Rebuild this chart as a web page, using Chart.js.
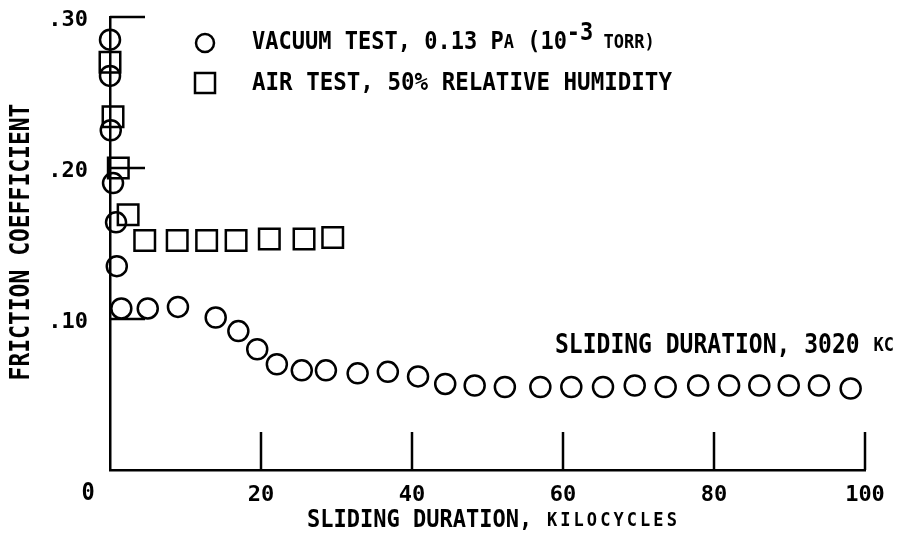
<!DOCTYPE html>
<html lang="en">
<head>
    <meta charset="UTF-8">
    <title>Friction Coefficient vs Sliding Duration</title>
    <script src="https://cdn.jsdelivr.net/npm/chart.js"></script>
    <style>
        body { margin: 0; background: #fff; }
    </style>
</head>
<body>

    <canvas id="frictionChart" width="897" height="534"></canvas>

    <script>
        // Vacuum test, 0.13 Pa (circles)
        const vacuumX = [0, 0, 0.1, 0.4, 0.8, 0.9, 1.5, 5.0, 9.0, 14.0, 17.0, 19.5, 22.1, 25.4, 28.6, 32.8, 36.8, 40.8, 44.4, 48.3, 52.3, 57.0, 61.1, 65.3, 69.5, 73.6, 77.9, 82.0, 86.0, 89.9, 93.9, 98.1];
        const vacuumY = [0.285, 0.261, 0.225, 0.190, 0.164, 0.135, 0.107, 0.107, 0.108, 0.101, 0.092, 0.080, 0.070, 0.066, 0.066, 0.064, 0.065, 0.062, 0.057, 0.056, 0.055, 0.055, 0.055, 0.055, 0.056, 0.055, 0.056, 0.056, 0.056, 0.056, 0.056, 0.054];

        // Air test, 50% relative humidity (squares)
        const airX = [0, 0.4, 1.1, 2.4, 4.6, 8.9, 12.8, 16.7, 21.1, 25.7, 29.5];
        const airY = [0.270, 0.234, 0.200, 0.169, 0.152, 0.152, 0.152, 0.152, 0.153, 0.153, 0.154];

        const xTicks = [0, 20, 40, 60, 80, 100];
        const yTicks = [0.1, 0.2, 0.3];

        const FONT = '"DejaVu Sans Mono", monospace';
        const STRETCH = 1.12; // lettering is taller than the mono font

        // text made of runs with different sizes (small caps, superscript)
        // pitch: fixed advance per char, small caps keep the full-size spacing
        function drawRuns(ctx, x, y, runs) {
            ctx.save();
            ctx.translate(x, y);
            ctx.scale(1, STRETCH);
            let cx = 0;
            runs.forEach(r => {
                ctx.font = 'bold ' + r.size + 'px ' + FONT;
                if (r.pitch) {
                    for (const ch of r.text) {
                        const w = ctx.measureText(ch).width;
                        ctx.fillText(ch, cx + (r.pitch - w) / 2, -(r.dy || 0));
                        cx += r.pitch;
                    }
                } else {
                    ctx.fillText(r.text, cx, -(r.dy || 0));
                    cx += ctx.measureText(r.text).width;
                }
            });
            ctx.restore();
        }

        const decorations = {
            id: 'decorations',
            afterDraw(chart) {
                const ctx = chart.ctx;
                const xs = chart.scales.x, ys = chart.scales.y;
                const x0 = xs.getPixelForValue(0), y0 = ys.getPixelForValue(0);
                ctx.save();
                ctx.strokeStyle = '#000';
                ctx.fillStyle = '#000';
                ctx.lineWidth = 2.5;

                // inward tick marks
                yTicks.forEach(v => {
                    const py = ys.getPixelForValue(v);
                    ctx.beginPath();
                    ctx.moveTo(x0, py);
                    ctx.lineTo(x0 + 35, py);
                    ctx.stroke();
                });
                xTicks.filter(v => v > 0).forEach(v => {
                    const px = xs.getPixelForValue(v);
                    ctx.beginPath();
                    ctx.moveTo(px, y0);
                    ctx.lineTo(px, y0 - 38);
                    ctx.stroke();
                });

                ctx.textBaseline = 'middle';
                ctx.textAlign = 'center';
                drawRuns(ctx, x0 - 22, 494, [{ text: '0', size: 22 }]);

                ctx.textAlign = 'left';
                // x axis title
                drawRuns(ctx, 307, 521, [
                    { text: 'SLIDING DURATION, ', size: 22 },
                    { text: 'KILOCYCLES', size: 17, pitch: 13.3 }
                ]);

                // annotation
                drawRuns(ctx, 555, 346, [
                    { text: 'SLIDING DURATION, 3020 ', size: 23 },
                    { text: 'KC', size: 17 }
                ]);

                // legend
                ctx.beginPath();
                ctx.arc(205, 43, 9, 0, Math.PI * 2);
                ctx.stroke();
                ctx.strokeRect(195, 73, 20, 20);
                drawRuns(ctx, 252, 43, [
                    { text: 'VACUUM TEST, 0.13 P', size: 22 },
                    { text: 'A', size: 17 },
                    { text: ' (10', size: 22 },
                    { text: '-3', size: 22, dy: 8 },
                    { text: ' TORR)', size: 17 }
                ]);
                drawRuns(ctx, 252, 83, [
                    { text: 'AIR TEST, 50% RELATIVE HUMIDITY', size: 22.5 }
                ]);

                // y axis title
                ctx.translate(22, 242);
                ctx.rotate(-Math.PI / 2);
                ctx.textAlign = 'center';
                ctx.scale(1, STRETCH);
                ctx.font = 'bold 23px ' + FONT;
                ctx.fillText('FRICTION COEFFICIENT', 0, 0);
                ctx.restore();
            }
        };

        const ctx = document.getElementById('frictionChart').getContext('2d');
        const frictionChart = new Chart(ctx, {
            type: 'scatter',
            data: {
                datasets: [{
                    label: 'Vacuum test',
                    data: vacuumX.map((x, i) => ({ x: x, y: vacuumY[i] })),
                    pointStyle: 'circle',
                    pointRadius: 10,
                    borderColor: '#000',
                    backgroundColor: 'rgba(0,0,0,0)',
                    borderWidth: 2.5,
                    clip: false
                }, {
                    label: 'Air test',
                    data: airX.map((x, i) => ({ x: x, y: airY[i] })),
                    pointStyle: 'rect',
                    pointRadius: 14.5,
                    borderColor: '#000',
                    backgroundColor: 'rgba(0,0,0,0)',
                    borderWidth: 2.5,
                    clip: false
                }]
            },
            options: {
                responsive: false,
                animation: false,
                layout: { padding: { left: 0, top: 16, right: 32, bottom: 0 } },
                plugins: {
                    legend: { display: false },
                    tooltip: { enabled: false }
                },
                scales: {
                    x: {
                        type: 'linear',
                        min: 0,
                        max: 100,
                        afterBuildTicks: s => { s.ticks = xTicks.map(v => ({ value: v })); },
                        afterFit: s => { s.height = 64; s.paddingLeft = 0; s.paddingRight = 0; },
                        grid: { display: false, drawTicks: false },
                        border: { color: '#000', width: 2.5 },
                        ticks: {
                            callback: v => (v === 0 ? '' : v),
                            color: '#000',
                            font: { family: FONT, size: 22, weight: 'bold' },
                            padding: 12,
                            maxRotation: 0
                        }
                    },
                    y: {
                        min: 0,
                        max: 0.3,
                        afterBuildTicks: s => { s.ticks = yTicks.map(v => ({ value: v })); },
                        afterFit: s => { s.width = 110; s.paddingTop = 0; s.paddingBottom = 0; },
                        grid: { display: false, drawTicks: false },
                        border: { color: '#000', width: 2.5 },
                        ticks: {
                            callback: v => '.' + Math.round(v * 100),
                            color: '#000',
                            font: { family: FONT, size: 22, weight: 'bold' },
                            padding: 22,
                            labelOffset: 3
                        }
                    }
                }
            },
            plugins: [decorations]
        });
    </script>

</body>
</html>
